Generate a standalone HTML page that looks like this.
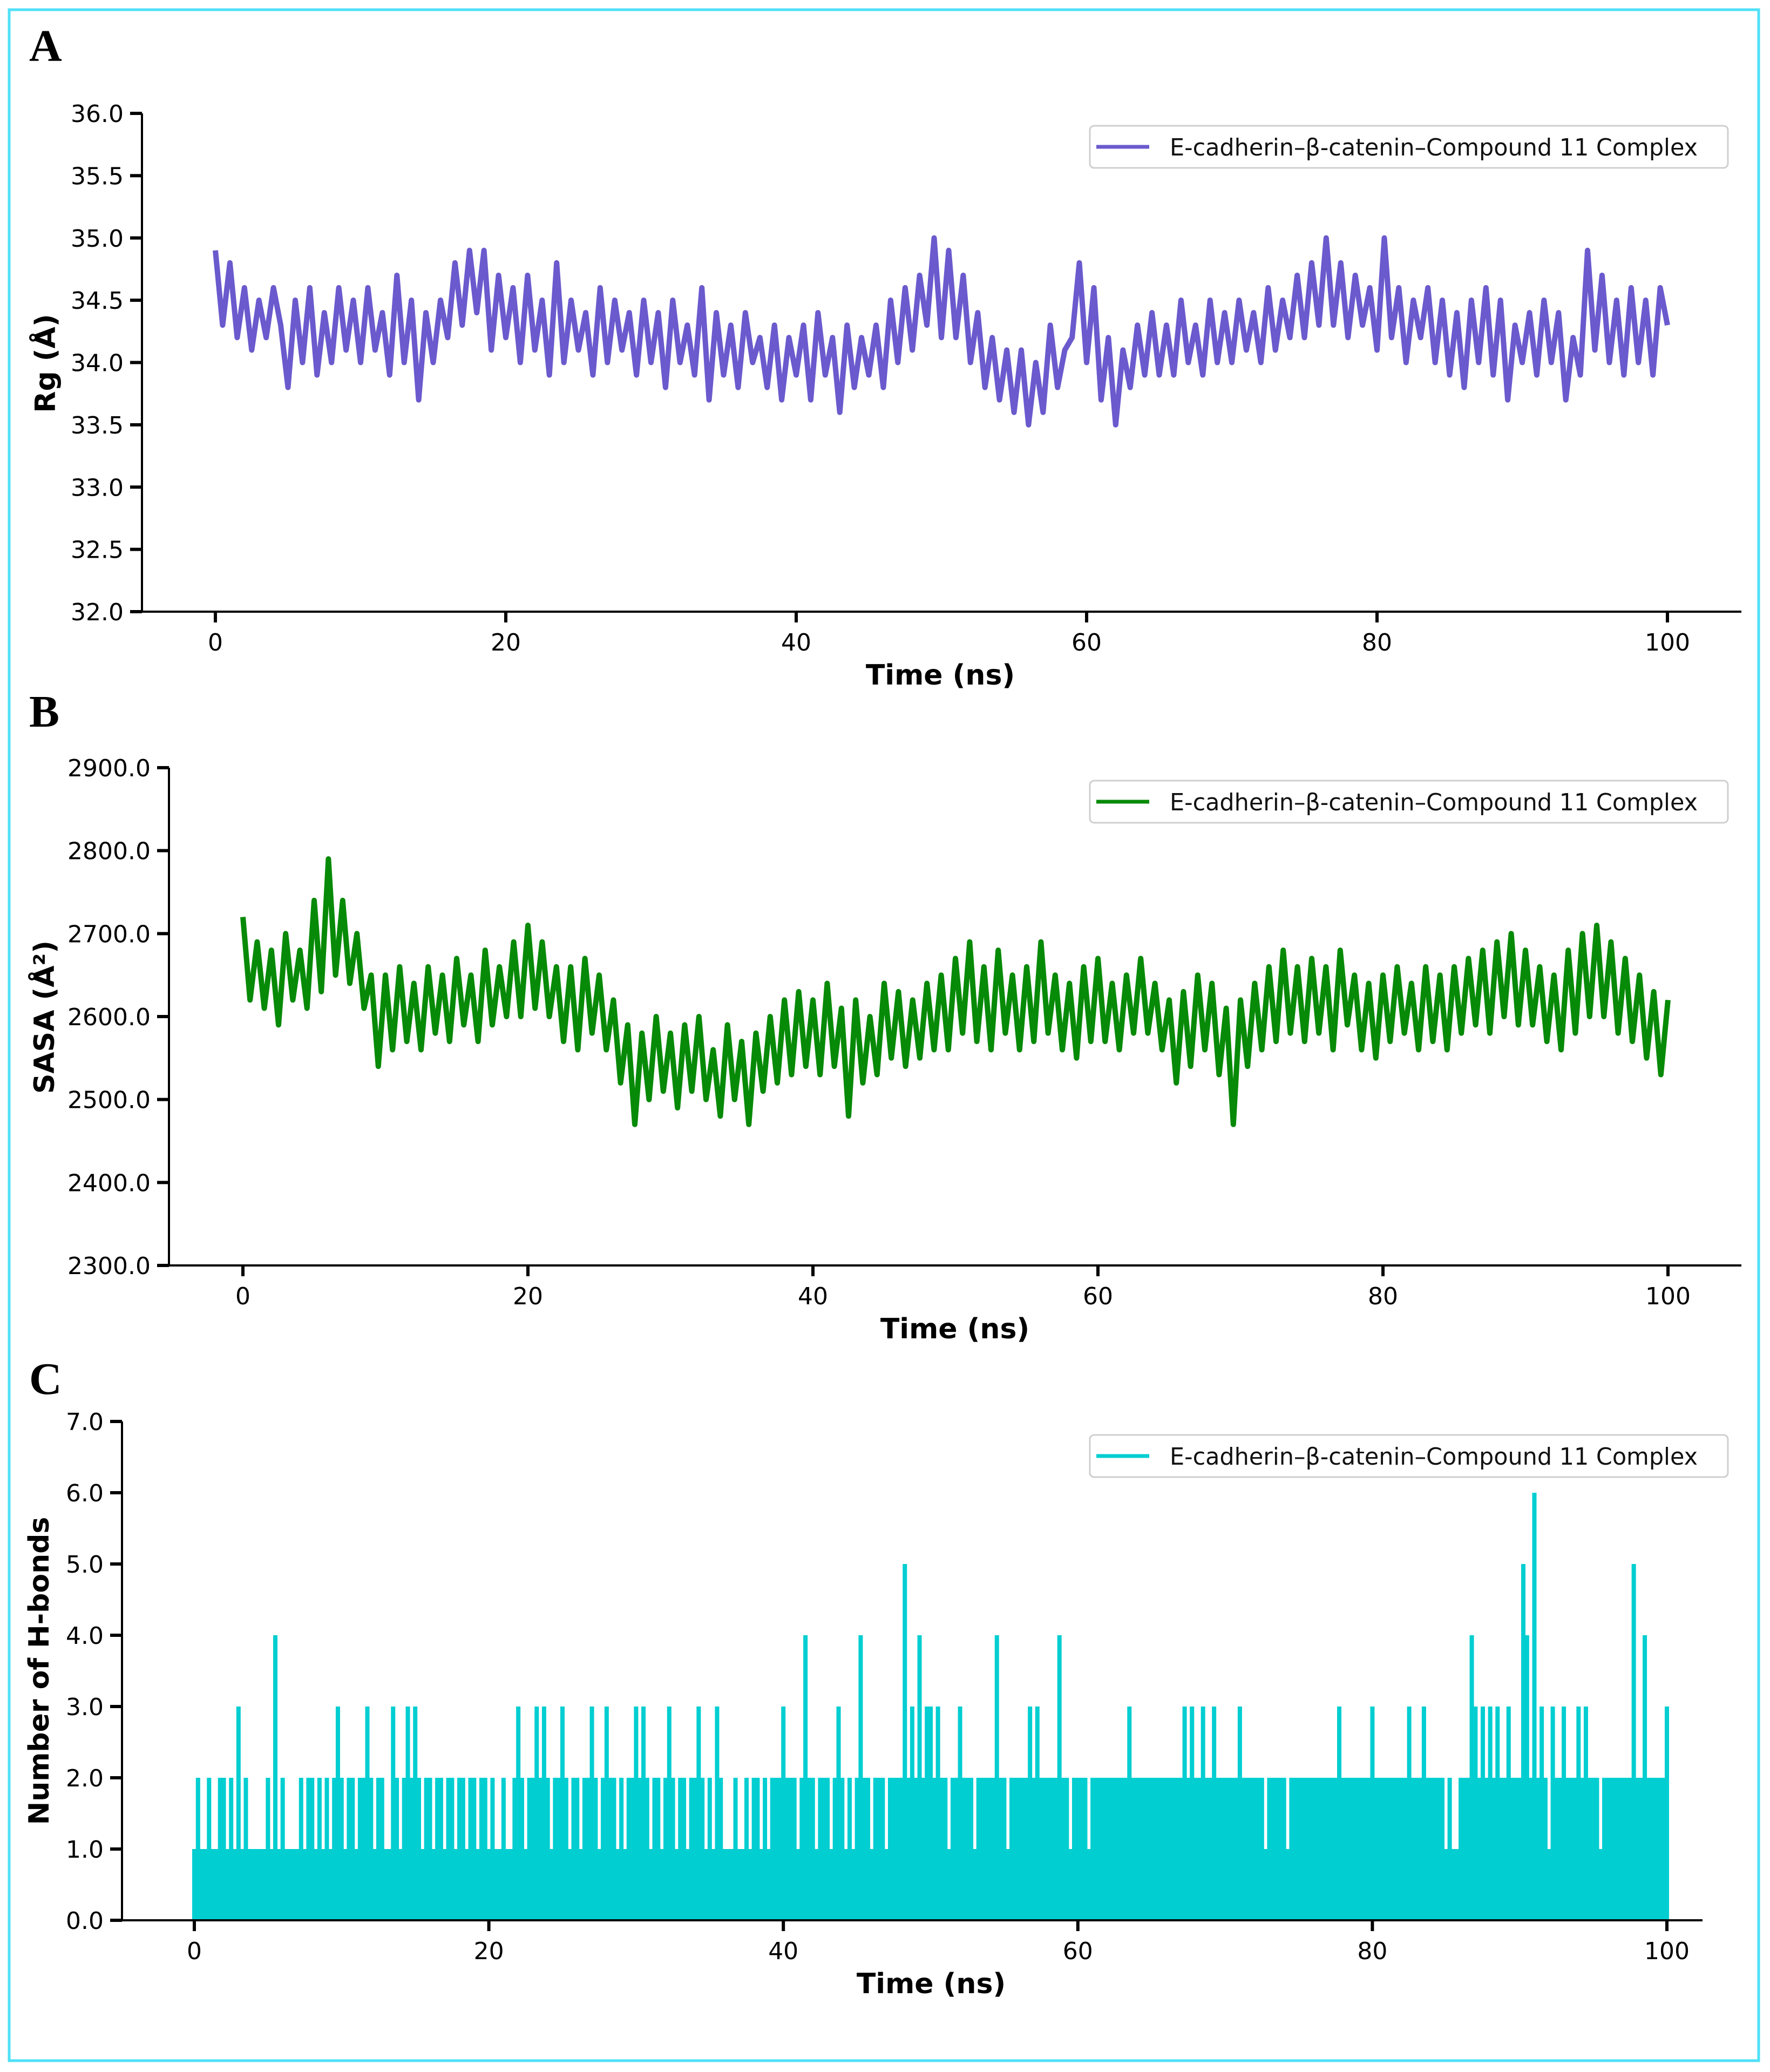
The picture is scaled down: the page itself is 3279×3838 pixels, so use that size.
<!DOCTYPE html>
<html><head><meta charset="utf-8">
<style>
html,body{margin:0;padding:0;background:#fff;}
svg{display:block;}
text{font-family:"DejaVu Sans","Liberation Sans",sans-serif;}
</style></head>
<body>
<svg id="fig" width="3279" height="3838" viewBox="0 0 3279 3838" xmlns="http://www.w3.org/2000/svg">
<rect x="0" y="0" width="3279" height="3838" fill="#fff"/>
<rect x="17" y="18" width="3241" height="3799" fill="none" stroke="#4fe0f7" stroke-width="5"/>
</svg>
<script>
// ---------- data ----------
const rgValues = [34.9,34.3,34.8,34.2,34.6,34.1,34.5,34.2,34.6,34.3,
33.8,34.5,34.0,34.6,33.9,34.4,34.0,34.6,34.1,34.5,
34.0,34.6,34.1,34.4,33.9,34.7,34.0,34.5,33.7,34.4,
34.0,34.5,34.2,34.8,34.3,34.9,34.4,34.9,34.1,34.7,
34.2,34.6,34.0,34.7,34.1,34.5,33.9,34.8,34.0,34.5,
34.1,34.4,33.9,34.6,34.0,34.5,34.1,34.4,33.9,34.5,
34.0,34.4,33.8,34.5,34.0,34.3,33.9,34.6,33.7,34.4,
33.9,34.3,33.8,34.4,34.0,34.2,33.8,34.3,33.7,34.2,
33.9,34.3,33.7,34.4,33.9,34.2,33.6,34.3,33.8,34.2,
33.9,34.3,33.8,34.5,34.0,34.6,34.1,34.7,34.3,35.0,
34.2,34.9,34.2,34.7,34.0,34.4,33.8,34.2,33.7,34.1,
33.6,34.1,33.5,34.0,33.6,34.3,33.8,34.1,34.2,34.8,
34.0,34.6,33.7,34.2,33.5,34.1,33.8,34.3,33.9,34.4,
33.9,34.3,33.9,34.5,34.0,34.3,33.9,34.5,34.0,34.4,
34.0,34.5,34.1,34.4,34.0,34.6,34.1,34.5,34.2,34.7,
34.2,34.8,34.3,35.0,34.3,34.8,34.2,34.7,34.3,34.6,
34.1,35.0,34.2,34.6,34.0,34.5,34.2,34.6,34.0,34.5,
33.9,34.4,33.8,34.5,34.0,34.6,33.9,34.5,33.7,34.3,
34.0,34.4,33.9,34.5,34.0,34.4,33.7,34.2,33.9,34.9,
34.1,34.7,34.0,34.5,33.9,34.6,34.0,34.5,33.9,34.6,34.3];
const sasaValues = [2720,2620,2690,2610,2680,2590,2700,2620,2680,2610,
2740,2630,2790,2650,2740,2640,2700,2610,2650,2540,
2650,2560,2660,2570,2640,2560,2660,2580,2650,2570,
2670,2590,2650,2570,2680,2590,2660,2600,2690,2600,
2710,2610,2690,2600,2660,2570,2660,2560,2670,2580,
2650,2560,2620,2520,2590,2470,2580,2500,2600,2510,
2580,2490,2590,2510,2600,2500,2560,2480,2590,2500,
2570,2470,2580,2510,2600,2520,2620,2530,2630,2540,
2620,2530,2640,2540,2610,2480,2620,2520,2600,2530,
2640,2550,2630,2540,2620,2550,2640,2560,2650,2560,
2670,2580,2690,2570,2660,2560,2680,2580,2650,2560,
2660,2570,2690,2580,2650,2560,2640,2550,2660,2570,
2670,2570,2640,2560,2650,2580,2670,2580,2640,2560,
2620,2520,2630,2540,2650,2560,2640,2530,2610,2470,
2620,2540,2640,2560,2660,2570,2680,2580,2660,2570,
2670,2580,2660,2560,2680,2590,2650,2560,2640,2550,
2650,2570,2660,2580,2640,2560,2660,2570,2650,2560,
2660,2580,2670,2590,2680,2580,2690,2600,2700,2590,
2680,2590,2660,2570,2650,2560,2680,2580,2700,2600,
2710,2600,2690,2580,2670,2570,2650,2550,2630,2530,2620];
const hbondValues = [1,2,1,1,2,1,1,2,2,1,2,1,3,1,2,1,1,1,1,1,
2,1,4,1,2,1,1,1,1,2,1,2,2,1,2,1,2,1,2,3,
2,1,2,2,1,2,2,3,2,1,2,2,1,1,3,2,1,2,3,2,
3,2,1,2,2,1,2,2,1,2,2,1,2,2,1,2,2,1,2,2,
1,2,1,1,2,1,1,2,3,2,1,2,2,3,2,3,2,1,2,2,
3,2,1,2,2,1,2,2,3,2,1,2,3,2,2,1,2,1,2,2,
3,2,3,2,1,2,2,1,2,3,2,1,2,2,1,2,2,3,2,1,
2,1,3,2,1,1,1,2,1,1,2,1,2,2,1,2,1,2,2,2,
3,2,2,2,1,2,4,2,2,1,2,2,2,1,2,3,2,1,2,1,
2,4,2,2,1,2,2,2,1,2,2,2,2,5,2,3,2,4,2,3,
3,2,3,2,2,1,2,2,3,2,2,2,1,2,2,2,2,2,4,2,
2,1,2,2,2,2,2,3,2,3,2,2,2,2,2,4,2,2,1,2,
2,2,2,1,2,2,2,2,2,2,2,2,2,2,3,2,2,2,2,2,
2,2,2,2,2,2,2,2,2,3,2,3,2,2,3,2,2,3,2,2,
2,2,2,2,3,2,2,2,2,2,2,1,2,2,2,2,2,1,2,2,
2,2,2,2,2,2,2,2,2,2,2,3,2,2,2,2,2,2,2,2,
3,2,2,2,2,2,2,2,2,2,3,2,2,2,3,2,2,2,2,2,
1,2,1,1,2,2,2,4,3,2,3,2,3,2,3,2,2,3,2,2,
2,5,4,2,6,2,3,2,1,3,2,2,3,2,2,2,3,2,3,2,
2,2,1,2,2,2,2,2,2,2,2,5,2,2,4,2,2,2,2,2,3];
const xTicks = [0,20,40,60,80,100];
const rgTicks = [32.0,32.5,33.0,33.5,34.0,34.5,35.0,35.5,36.0];
const sasaTicks = [2300,2400,2500,2600,2700,2800,2900];
const hbTicks = [0,1,2,3,4,5,6,7];
const legendLabel = "E-cadherin–β-catenin–Compound 11 Complex";

// ---------- drawing ----------
const svg = document.getElementById('fig');
const NS = 'http://www.w3.org/2000/svg';
function mk(tag, attrs, parent){
  const e = document.createElementNS(NS, tag);
  for (const k in attrs) e.setAttribute(k, attrs[k]);
  (parent||svg).appendChild(e);
  return e;
}

function panel(cfg){
  const g = mk('g', {});
  
  
  const sx = v => cfg.x0 + (v - 0) / 100 * (cfg.x100 - cfg.x0);
  const sy = v => cfg.yBot - (v - cfg.ymin) / (cfg.ymax - cfg.ymin) * (cfg.yBot - cfg.yTop);
  const n = cfg.values.length;
  const tAt = i => i * 100 / (n - 1);

  if (cfg.kind === 'line') {
    let d = '';
    cfg.values.forEach((v, i) => { d += (i ? 'L' : 'M') + sx(tAt(i)).toFixed(1) + ' ' + sy(v).toFixed(1); });
    const p = mk('path', {d: d, fill: 'none', stroke: cfg.color, 'stroke-width': 10, 'stroke-linejoin': 'round'}, g);
    
    
  } else {
    const base = mk('rect', {x: sx(0), y: sy(1), width: sx(100) - sx(0), height: sy(0) - sy(1), fill: cfg.color}, g);
    
    
    cfg.values.forEach((v, i) => {
      if (v <= 0) return;
      const ln = mk('line', {x1: sx(tAt(i)), x2: sx(tAt(i)), y1: sy(0), y2: sy(v), stroke: cfg.color, 'stroke-width': 8}, g);
      
      
    });
  }

  const ya = mk('line', {x1: cfg.spineX, x2: cfg.spineX, y1: cfg.yTop, y2: cfg.yBot, stroke: '#000', 'stroke-width': 4}, g);
  
  
  const xa = mk('line', {x1: cfg.spineX, x2: cfg.xEnd, y1: cfg.yBot, y2: cfg.yBot, stroke: '#000', 'stroke-width': 4}, g);
  
  

  cfg.yticks.forEach(v => {
    const y = sy(v);
    const t = mk('line', {x1: cfg.spineX - 22, x2: cfg.spineX, y1: y, y2: y, stroke: '#000', 'stroke-width': 6}, g);
    
    
    const tx = mk('text', {x: cfg.spineX - 34, y: y + 16, 'text-anchor': 'end', 'font-size': 44, fill: '#000'}, g);
    
    
    tx.textContent = v.toFixed(1);
  });
  xTicks.forEach(v => {
    const x = sx(v);
    const t = mk('line', {x1: x, x2: x, y1: cfg.yBot, y2: cfg.yBot + 20, stroke: '#000', 'stroke-width': 6}, g);
    
    
    const tx = mk('text', {x: x, y: cfg.yBot + 72, 'text-anchor': 'middle', 'font-size': 44, fill: '#000'}, g);
    
    
    tx.textContent = v;
  });

  const xl = mk('text', {x: cfg.xLabelX, y: cfg.yBot + 135, 'text-anchor': 'middle', 'font-size': 52, 'font-weight': 'bold', fill: '#000'}, g);
  
  
  xl.textContent = 'Time (ns)';
  const yl = mk('text', {x: 0, y: 0, 'text-anchor': 'middle', 'font-size': 52, 'font-weight': 'bold', fill: '#000', transform: 'translate(' + cfg.yLabelX + ',' + cfg.yLabelY + ') rotate(-90)'}, g);
  
  
  yl.textContent = cfg.ylabel;

  const pl = mk('text', {x: 54, y: cfg.letterY, 'font-size': 84, 'font-weight': 'bold', fill: '#000', style: 'font-family:"Liberation Serif",serif'}, g);
  
  
  pl.textContent = cfg.letter;

  const lg = mk('g', {}, g);
  
  
  const box = mk('rect', {x: 2019, y: cfg.legY, width: 1182, height: 78, rx: 8, fill: '#fff', stroke: '#cfcfcf', 'stroke-width': 3}, lg);
  
  
  const sw = mk('line', {x1: 2031, x2: 2129, y1: cfg.legY + 39, y2: cfg.legY + 39, stroke: cfg.color, 'stroke-width': 7}, lg);
  
  
  const lt = mk('text', {x: 2167, y: cfg.legY + 55, 'font-size': 44, fill: '#111', textLength: 978, lengthAdjust: 'spacingAndGlyphs'}, lg);
  
  
  lt.textContent = legendLabel;
}

panel({name: 'rg-panel', letter: 'A', letterY: 113, kind: 'line', values: rgValues, color: '#6a5acd',
  x0: 399, x100: 3089, xEnd: 3226, spineX: 263, yTop: 210, yBot: 1133, ymin: 32, ymax: 36,
  yticks: rgTicks, ylabel: 'Rg (Å)', yLabelX: 102, yLabelY: 673, xLabelX: 1742, legY: 233});
panel({name: 'sasa-panel', letter: 'B', letterY: 1346, kind: 'line', values: sasaValues, color: '#078a07',
  x0: 450, x100: 3090, xEnd: 3226, spineX: 313, yTop: 1422, yBot: 2344, ymin: 2300, ymax: 2900,
  yticks: sasaTicks, ylabel: 'SASA (Å²)', yLabelX: 100, yLabelY: 1884, xLabelX: 1769, legY: 1446});
panel({name: 'hbond-panel', letter: 'C', letterY: 2582, kind: 'bars', values: hbondValues, color: '#00ced1',
  x0: 360, x100: 3088, xEnd: 3154, spineX: 226, yTop: 2633, yBot: 3557, ymin: 0, ymax: 7,
  yticks: hbTicks, ylabel: 'Number of H-bonds', yLabelX: 90, yLabelY: 3095, xLabelX: 1725, legY: 2658});
</script>
</body></html>
